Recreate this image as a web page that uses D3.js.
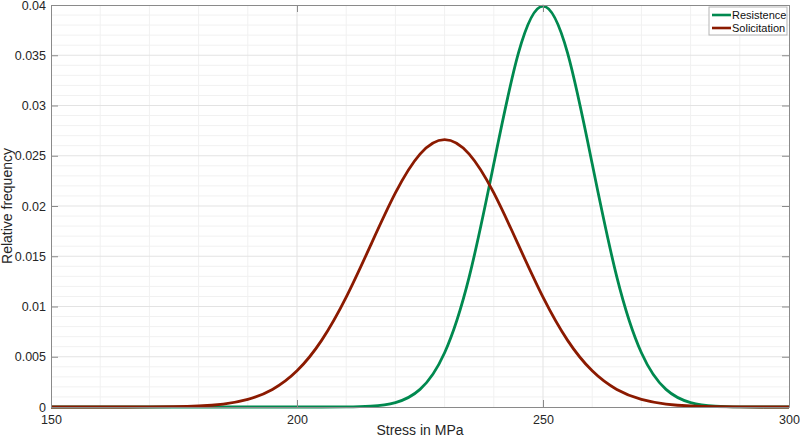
<!DOCTYPE html>
<html>
<head>
<meta charset="utf-8">
<script src="https://cdn.jsdelivr.net/npm/d3@7"></script>
<style>
  html, body { margin: 0; padding: 0; background: #fff; }
  svg { display: block; font-family: "Liberation Sans", Arial, sans-serif; }
</style>
</head>
<body>
<svg id="chart" width="800" height="439"></svg>
<script>
// stress samples (MPa) and relative frequencies
const stress = [150, 155, 160, 165, 170, 175, 180, 185, 190, 195, 200, 205, 210, 215, 220, 225,
    230, 235, 240, 245, 250, 255, 260, 265, 270, 275, 280, 285, 290, 295, 300];
const resistence = [0, 0, 0, 0, 0, 0, 0, 0, 0, 0, 0, 0.0000016, 0.00001, 0.00009, 0.00044, 0.00175,
    0.0054, 0.01295, 0.0242, 0.03521, 0.03989, 0.03521, 0.0242, 0.01295, 0.0054, 0.00175,
    0.00044, 0.00009, 0.00001, 0.0000016, 0];
const solicitation = [0, 0, 0.0000005, 0.0000022, 0.0000089, 0.000032, 0.000103, 0.000295, 0.00076,
    0.00175, 0.0036, 0.00663, 0.01093, 0.01613, 0.0213, 0.02516, 0.0266, 0.02516, 0.0213, 0.01613,
    0.01093, 0.00663, 0.0036, 0.00175, 0.00076, 0.000295, 0.000103, 0.000032, 0.0000089,
    0.0000022, 0.0000005];

const seriesNames = ['Resistence', 'Solicitation'];
const seriesColors = ['#00894f', '#8b1a00'];
const xTicks = [150, 200, 250, 300];
const yTicks = [0, 0.005, 0.01, 0.015, 0.02, 0.025, 0.03, 0.035, 0.04];

const m = { top: 5, right: 11, bottom: 32, left: 51 };
const W = 800, H = 439;
const iw = W - m.left - m.right, ih = H - m.top - m.bottom;

const svg = d3.select('#chart');
const g = svg.append('g').attr('transform', `translate(${m.left},${m.top})`);

const x = d3.scaleLinear().domain([150, 300]).range([0, iw]);
const y = d3.scaleLinear().domain([0, 0.04]).range([ih, 0]);

// minor grid, then major grid
g.append('g').selectAll('line')
    .data(d3.range(160, 300, 10).filter((v) => v % 50 !== 0))
    .join('line')
    .attr('x1', (d) => x(d)).attr('x2', (d) => x(d)).attr('y1', 0).attr('y2', ih)
    .attr('stroke', '#f1f1f1').attr('stroke-width', 1);
g.append('g').selectAll('line')
    .data(d3.range(1, 40).filter((i) => i % 5 !== 0).map((i) => i * 0.001))
    .join('line')
    .attr('y1', (d) => y(d)).attr('y2', (d) => y(d)).attr('x1', 0).attr('x2', iw)
    .attr('stroke', '#f1f1f1').attr('stroke-width', 1);
g.append('g').selectAll('line')
    .data(xTicks.slice(1, -1))
    .join('line')
    .attr('x1', (d) => x(d)).attr('x2', (d) => x(d)).attr('y1', 0).attr('y2', ih)
    .attr('stroke', '#e3e3e3').attr('stroke-width', 1);
g.append('g').selectAll('line')
    .data(yTicks.slice(1, -1))
    .join('line')
    .attr('y1', (d) => y(d)).attr('y2', (d) => y(d)).attr('x1', 0).attr('x2', iw)
    .attr('stroke', '#e3e3e3').attr('stroke-width', 1);

// curves
const line = d3.line()
    .x((d) => x(d[0]))
    .y((d) => y(d[1]))
    .curve(d3.curveNatural);

[resistence, solicitation].forEach((vals, i) => {
    g.append('path')
        .datum(stress.map((s, k) => [s, vals[k]]))
        .attr('fill', 'none')
        .attr('stroke', seriesColors[i])
        .attr('stroke-width', 2.8)
        .attr('stroke-linejoin', 'round')
        .attr('d', line);
});

// axes box with inward ticks on all four sides
const axisColor = '#8a8a8a';
const styleAxis = (sel) => {
    sel.select('.domain').attr('stroke', axisColor);
    sel.selectAll('.tick line').attr('stroke', axisColor);
    sel.selectAll('.tick text').attr('fill', '#262626').attr('font-size', 12.5)
        .attr('font-family', '"Liberation Sans", Arial, sans-serif');
};

g.append('g').attr('transform', `translate(0,${ih})`)
    .call(d3.axisBottom(x).tickValues(xTicks).tickSizeInner(-7).tickSizeOuter(0).tickPadding(8))
    .call(styleAxis);
g.append('g')
    .call(d3.axisTop(x).tickValues(xTicks).tickSizeInner(-7).tickSizeOuter(0).tickFormat(''))
    .call(styleAxis);
g.append('g')
    .call(d3.axisLeft(y).tickValues(yTicks).tickSizeInner(-7).tickSizeOuter(0).tickPadding(5)
        .tickFormat((d) => (d === 0 ? '0' : String(+d.toFixed(3)))))
    .call(styleAxis);
g.append('g').attr('transform', `translate(${iw},0)`)
    .call(d3.axisRight(y).tickValues(yTicks).tickSizeInner(-7).tickSizeOuter(0).tickFormat(''))
    .call(styleAxis);

// axis titles
svg.append('text')
    .attr('x', m.left + iw / 2).attr('y', 435)
    .attr('text-anchor', 'middle').attr('font-size', 14).attr('fill', '#262626')
    .text('Stress in MPa');
svg.append('text')
    .attr('transform', `translate(12,${m.top + ih / 2}) rotate(-90)`)
    .attr('text-anchor', 'middle').attr('font-size', 14).attr('fill', '#262626')
    .text('Relative frequency');

// legend
const lg = svg.append('g').attr('transform', 'translate(709,7)');
lg.append('rect').attr('width', 78).attr('height', 28)
    .attr('fill', '#fff').attr('stroke', '#b5b5b5').attr('stroke-width', 1);
seriesNames.forEach((name, i) => {
    const row = lg.append('g').attr('transform', `translate(0,${8 + i * 13})`);
    row.append('line').attr('x1', 3).attr('x2', 22).attr('y1', 0).attr('y2', 0)
        .attr('stroke', seriesColors[i]).attr('stroke-width', 2.6);
    row.append('text').attr('x', 23).attr('y', 4).attr('font-size', 11).attr('fill', '#111')
        .text(name);
});
</script>
</body>
</html>
